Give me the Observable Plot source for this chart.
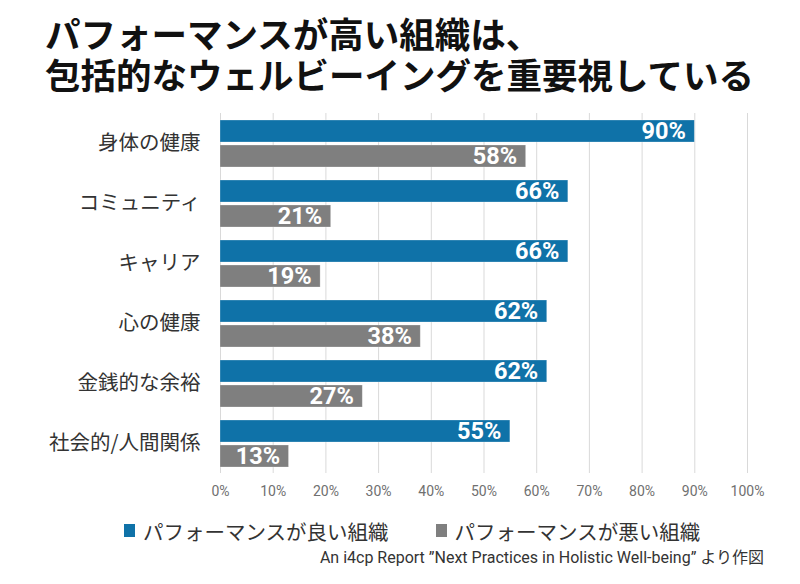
<!DOCTYPE html>
<html><head><meta charset="utf-8">
<script src="https://cdn.jsdelivr.net/npm/d3@7"></script>
<script src="https://cdn.jsdelivr.net/npm/@observablehq/plot@0.6"></script>
<style>
body{margin:0;background:#fff;font-family:"Noto Sans CJK JP","Noto Sans",sans-serif;}
#wrap{position:relative;width:800px;height:584px;overflow:hidden;}
.title{position:absolute;left:45px;font-size:35.5px;font-weight:bold;line-height:38px;color:#111;white-space:nowrap;}
#t1{top:14px;}
#t2{top:55px;}
#chart{position:absolute;left:0;top:100px;}
#legend{position:absolute;top:513px;left:124px;font-size:20.5px;color:#333;white-space:nowrap;}
#legend span.item{display:inline-flex;align-items:center;margin-right:47px;}
#legend i{display:inline-block;width:11px;height:13px;margin-right:8px;}
#caption{position:absolute;top:544px;right:36px;font-family:Roboto,"Noto Sans CJK JP",sans-serif;font-size:16px;color:#333;white-space:nowrap;}
</style></head>
<body><div id="wrap">
<div class="title" id="t1">パフォーマンスが高い組織は、</div>
<div class="title" id="t2">包括的なウェルビーイングを重要視している</div>
<div id="chart"></div>
<div id="legend"></div>
<div id="caption">An i4cp Report ”Next Practices in Holistic Well-being” より作図</div>
</div>
<script>
const categories = ["身体の健康","コミュニティ","キャリア","心の健康","金銭的な余裕","社会的/人間関係"];
const seriesNames = ["パフォーマンスが良い組織","パフォーマンスが悪い組織"];
const highPerf = [90,66,66,62,62,55];
const lowPerf = [58,21,19,38,27,13];
const xTicks = [0,10,20,30,40,50,60,70,80,90,100];
const colors = ["#0f72a8","#7f7f7f"];

const data = [];
categories.forEach((c,i)=>{
  data.push({cat:c, series:seriesNames[0], value:highPerf[i]});
  data.push({cat:c, series:seriesNames[1], value:lowPerf[i]});
});

const plot = Plot.plot({
  width: 800, height: 410,
  marginTop: 13, marginBottom: 37, marginLeft: 220, marginRight: 53,
  style: {fontSize: "14px", fontFamily: "Roboto, 'Noto Sans', sans-serif", color: "#707070", background: "transparent"},
  x: {domain: [0,100], ticks: xTicks, tickFormat: d => d + "%", tickSize: 0, tickPadding: 13, label: null},
  fy: {domain: categories, padding: 0, axis: null, label: null},
  y: {domain: seriesNames, paddingInner: 0.12, paddingOuter: 0.26, axis: null},
  color: {domain: seriesNames, range: colors},
  marks: [
    Plot.ruleX(xTicks, {stroke: "#d9d9d9", strokeWidth: 1}),
    Plot.barX(data, {fy: "cat", y: "series", x: "value", fill: "series", stroke: "#ffffff", strokeOpacity: 0.35, strokeWidth: 0.75}),
    Plot.text(data, {fy: "cat", y: "series", x: "value", text: d => d.value + "%", textAnchor: "end", dx: -9, fill: "white", fontWeight: "bold", fontSize: 23.5, fontFamily: "Roboto"}),
    Plot.text(categories, {fy: d => d, text: d => d, frameAnchor: "left", textAnchor: "end", dx: -20, fontSize: 20.5, fill: "#333", fontFamily: "'Noto Sans CJK JP'"})
  ]
});
document.getElementById("chart").appendChild(plot);

const legend = document.getElementById("legend");
seriesNames.forEach((s,i)=>{
  const item = document.createElement("span");
  item.className = "item";
  const sw = document.createElement("i");
  sw.style.background = colors[i];
  item.appendChild(sw);
  item.appendChild(document.createTextNode(s));
  legend.appendChild(item);
});
</script>
</body></html>
